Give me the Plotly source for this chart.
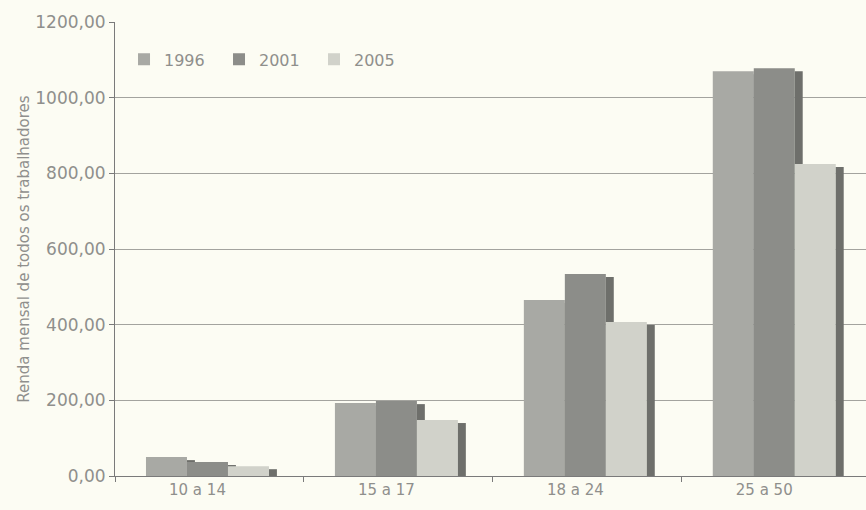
import plotly.graph_objects as go

categories = ["10 a 14", "15 a 17", "18 a 24", "25 a 50"]
years = ["1996", "2001", "2005"]
v1996 = [50, 193, 465, 1070]
v2001 = [37, 198, 534, 1078]
v2005 = [26, 148, 407, 825]
y_ticks = [0, 200, 400, 600, 800, 1000, 1200]

series = [v1996, v2001, v2005]
front_colors = ["#a8a9a4", "#8c8d89", "#d1d2ca"]
side_color = "#6e6f6b"
front_offsets = [-0.336, -0.119, 0.098]
front_width = 0.217
side_width = 0.042
side_drop = 8

fig = go.Figure()
for name, vals, col, off in zip(years, series, front_colors, front_offsets):
    fig.add_trace(go.Bar(
        x=categories, y=vals, name=name, marker=dict(color=col, line=dict(width=0)),
        offset=off, width=front_width, showlegend=True,
    ))
    fig.add_trace(go.Bar(
        x=categories, y=[v - side_drop for v in vals], name=name + " lado",
        marker=dict(color=side_color, line=dict(width=0)),
        offset=off + front_width, width=side_width, showlegend=False, hoverinfo="skip",
    ))

font_color = "#8f8f8c"
fam = "DejaVu Sans, sans-serif"
bg = "#fcfcf3"
fig.update_layout(
    width=866, height=510,
    barmode="overlay",
    paper_bgcolor=bg,
    plot_bgcolor=bg,
    separators=",.",
    font=dict(family=fam, size=15, color=font_color),
    margin=dict(l=115, r=0, t=22, b=34),
    legend=dict(
        orientation="h", x=0.012, y=0.955, xanchor="left", yanchor="top",
        bgcolor="rgba(0,0,0,0)", font=dict(size=16, color=font_color),
        traceorder="normal", entrywidth=50,
    ),
    xaxis=dict(
        range=[-0.5, 3.475], showgrid=False, showline=True, linecolor="#7a7a7a",
        ticks="outside", tickson="boundaries", ticklen=5, tickcolor="#7a7a7a",
        tickfont=dict(size=15, color=font_color), ticklabelshift=-12,
    ),
    yaxis=dict(
        range=[0, 1200], tickvals=y_ticks, tickformat=".2f",
        showgrid=True, gridcolor="#a3a39e", gridwidth=1,
        showline=True, linecolor="#7a7a7a", ticks="outside", ticklen=5,
        tickcolor="#7a7a7a", zeroline=False,
        tickfont=dict(size=17, color=font_color),
        title=dict(text="Renda mensal de todos os trabalhadores",
                   font=dict(size=15, color=font_color), standoff=2),
    ),
)
fig.write_html(
    "out.html",
    config={"displayModeBar": False},
    post_script="document.body.style.margin='0';document.body.style.background='" + bg + "';",
)
